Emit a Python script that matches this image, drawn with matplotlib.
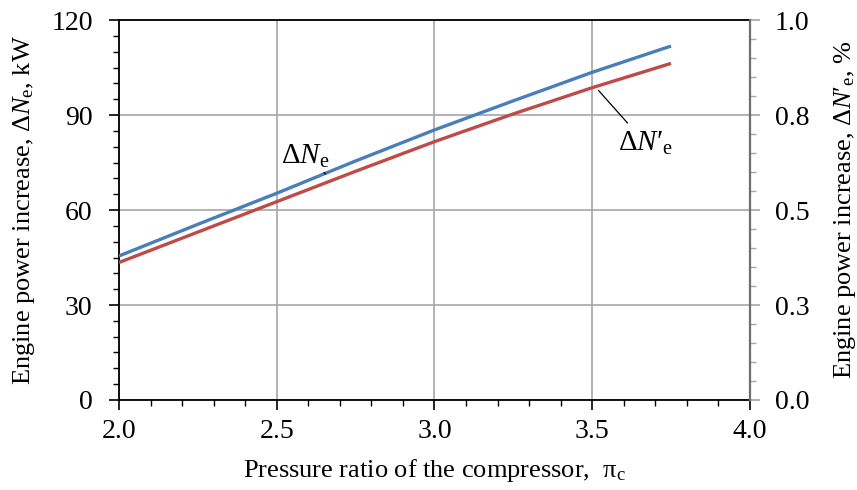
import matplotlib
matplotlib.use("Agg")
import matplotlib.pyplot as plt
from matplotlib.ticker import MultipleLocator

plt.rcParams['font.family'] = ['Liberation Serif', 'DejaVu Serif']
plt.rcParams['mathtext.fontset'] = 'custom'
plt.rcParams['mathtext.rm'] = 'Liberation Serif'
plt.rcParams['mathtext.it'] = 'Liberation Serif:italic'

# Data
pressure_ratio = [2.0, 2.25, 2.5, 2.75, 3.0, 3.25, 3.5, 3.75]
power_kw = [45.5, 55.5, 65.3, 75.5, 85.3, 94.5, 103.5, 111.8]
power_pct = [0.362, 0.442, 0.522, 0.602, 0.680, 0.753, 0.822, 0.886]
x_ticks = [2.0, 2.5, 3.0, 3.5, 4.0]
left_ticks = [0, 30, 60, 90, 120]
right_ticks = [0.0, 0.25, 0.5, 0.75, 1.0]
right_tick_labels = ["0.0", "0.3", "0.5", "0.8", "1.0"]

blue = '#4a7ebb'
red = '#be4b48'
grid_c = '#a6a6a6'

fig = plt.figure(figsize=(8.57, 4.9), dpi=100)
ax = fig.add_axes([0.1389, 0.1837, 0.875 - 0.1389, 0.959 - 0.1837])
ax2 = ax.twinx()

ax.set_xlim(2.0, 4.0)
ax.set_ylim(0, 120)
ax2.set_ylim(0, 1.0)

ax.set_xticks(x_ticks)
ax.set_xticklabels([f"{v:.1f}" for v in x_ticks])
ax.set_yticks(left_ticks)
ax.xaxis.set_minor_locator(MultipleLocator(0.1))
ax.yaxis.set_minor_locator(MultipleLocator(5))
ax2.set_yticks(right_ticks)
ax2.set_yticklabels(right_tick_labels)
ax2.yaxis.set_minor_locator(MultipleLocator(0.05))

ax.grid(True, which='major', color=grid_c, linewidth=1.2)
ax.set_axisbelow(True)

for s in ['left', 'bottom', 'top']:
    ax.spines[s].set_color('black')
    ax.spines[s].set_linewidth(1.3)
ax.spines['right'].set_visible(False)
for s in ['left', 'bottom', 'top']:
    ax2.spines[s].set_visible(False)
ax2.spines['right'].set_color('#6e6e6e')
ax2.spines['right'].set_linewidth(1.6)

ax.tick_params(axis='both', which='major', direction='out', length=7, width=1.2,
               color='black', labelsize=20, pad=7)
ax.tick_params(axis='y', which='major', pad=12)
ax.tick_params(axis='both', which='minor', direction='out', length=4.5, width=1.0, color='black')
ax2.tick_params(axis='y', which='major', direction='out', length=7, width=1.2,
                color='#a6a6a6', labelsize=20, pad=11)
ax2.tick_params(axis='y', which='minor', direction='out', length=4.5, width=1.0, color='#a6a6a6')

ax.plot(pressure_ratio, power_kw, color=blue, linewidth=2.4, solid_capstyle='butt', zorder=3)
ax2.plot(pressure_ratio, power_pct, color=red, linewidth=2.4, solid_capstyle='butt', zorder=3)

ax.set_xlabel(r"Pressure ratio of the compressor,  $\mathrm{\pi}_{\mathrm{c}}$", fontsize=19)
ax.xaxis.set_label_coords(0.5, -0.15)
ax.set_ylabel(r"Engine power increase, $\Delta \mathit{N}_{\mathrm{e}}$, kW", fontsize=19, labelpad=10)
ax2.set_ylabel("Engine power increase, $\\Delta \\mathit{N}$\u2032$_{\\mathrm{e}}$, %", fontsize=19, labelpad=16)

ax.annotate(r"$\Delta \mathit{N}_{\mathrm{e}}$", xy=(2.655, 71.4), xytext=(2.59, 77.0),
            fontsize=21, ha='center', va='center',
            arrowprops=dict(arrowstyle='-', color='black', linewidth=0.9, shrinkA=5, shrinkB=0))
ax2.annotate("$\\Delta \\mathit{N}$\u2032$_{\\mathrm{e}}$", xy=(3.52, 0.815), xytext=(3.67, 0.675),
             fontsize=21, ha='center', va='center',
             arrowprops=dict(arrowstyle='-', color='black', linewidth=0.9, shrinkA=4, shrinkB=0))

fig.savefig("out.png", dpi=100)
